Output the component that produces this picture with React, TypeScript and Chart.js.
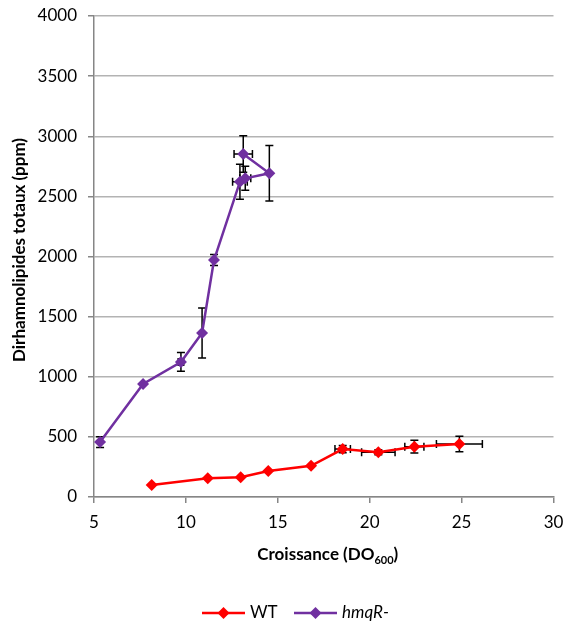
import React, { useEffect, useRef } from "react";
import { Chart, registerables } from "chart.js";

Chart.register(...registerables);

// WT series
const wtX = [8.14, 11.19, 12.98, 14.48, 16.81, 18.53, 20.47, 22.43, 24.88];
const wtY = [100, 155, 164, 216, 260, 399, 372, 418, 441];
const wtXErr = [0, 0, 0, 0, 0, 0.42, 0.91, 0.52, 1.25];
const wtYErr = [0, 0, 0, 0, 0, 30, 20, 53, 65];

// hmqR- series
const hmqX = [5.33, 7.67, 9.73, 10.88, 11.53, 12.94, 13.23, 14.54, 13.12];
const hmqY = [457, 940, 1123, 1364, 1971, 2622, 2650, 2692, 2852];
const hmqXErr = [0, 0, 0.15, 0, 0, 0.4, 0.3, 0, 0.5];
const hmqYErr = [45, 0, 78, 208, 45, 145, 100, 231, 152];

const xTicks = [5, 10, 15, 20, 25, 30];
const yTicks = [0, 500, 1000, 1500, 2000, 2500, 3000, 3500, 4000];

const seriesNames = ["WT", "hmqR-"];
const seriesColors = ["#ff0000", "#7030a0"];
const xTitleMain = "Croissance (DO";
const xTitleSub = "600";
const xTitleEnd = ")";
const yTitle = "Dirhamnolipides totaux (ppm)";

const FONT = "Lato, 'Open Sans', sans-serif";

const errorBarPlugin = {
  id: "errorBars",
  beforeDatasetsDraw(chart: any) {
    const { ctx, scales } = chart;
    const xs = scales.x;
    const ys = scales.y;
    const sets = [
      { x: wtX, y: wtY, ex: wtXErr, ey: wtYErr },
      { x: hmqX, y: hmqY, ex: hmqXErr, ey: hmqYErr },
    ];
    ctx.save();
    ctx.strokeStyle = "#000";
    ctx.lineWidth = 1.5;
    const cap = 4;
    sets.forEach((s) => {
      s.x.forEach((xv, i) => {
        const px = xs.getPixelForValue(xv);
        const py = ys.getPixelForValue(s.y[i]);
        if (s.ey[i] > 0) {
          const t = ys.getPixelForValue(s.y[i] + s.ey[i]);
          const b = ys.getPixelForValue(s.y[i] - s.ey[i]);
          ctx.beginPath();
          ctx.moveTo(px, t);
          ctx.lineTo(px, b);
          ctx.moveTo(px - cap, t);
          ctx.lineTo(px + cap, t);
          ctx.moveTo(px - cap, b);
          ctx.lineTo(px + cap, b);
          ctx.stroke();
        }
        if (s.ex[i] > 0) {
          const l = xs.getPixelForValue(xv - s.ex[i]);
          const r = xs.getPixelForValue(xv + s.ex[i]);
          ctx.beginPath();
          ctx.moveTo(l, py);
          ctx.lineTo(r, py);
          ctx.moveTo(l, py - cap);
          ctx.lineTo(l, py + cap);
          ctx.moveTo(r, py - cap);
          ctx.lineTo(r, py + cap);
          ctx.stroke();
        }
      });
    });
    ctx.restore();
  },
};

const titlesPlugin = {
  id: "customTitles",
  afterDraw(chart: any) {
    const { ctx, chartArea } = chart;
    ctx.save();
    ctx.fillStyle = "#000";
    // X title with subscript
    const mainFont = `bold 17px ${FONT}`;
    const subFont = `bold 11px ${FONT}`;
    ctx.font = mainFont;
    const w1 = ctx.measureText(xTitleMain).width;
    const w3 = ctx.measureText(xTitleEnd).width;
    ctx.font = subFont;
    const w2 = ctx.measureText(xTitleSub).width;
    const total = w1 + w2 + w3;
    const cx = (chartArea.left + chartArea.right) / 2 + 4;
    let x = cx - total / 2;
    const y = 555;
    ctx.textBaseline = "middle";
    ctx.textAlign = "left";
    ctx.font = mainFont;
    ctx.fillText(xTitleMain, x, y);
    x += w1;
    ctx.font = subFont;
    ctx.fillText(xTitleSub, x, y + 5);
    x += w2;
    ctx.font = mainFont;
    ctx.fillText(xTitleEnd, x, y);

    // Y title
    ctx.save();
    ctx.translate(20, 250);
    ctx.rotate(-Math.PI / 2);
    ctx.textAlign = "center";
    ctx.textBaseline = "middle";
    ctx.font = mainFont;
    ctx.fillText(yTitle, 0, 0);
    ctx.restore();

    // Legend
    const ly = 613;
    const items = [
      { x0: 202, x1: 245, text: seriesNames[0], italic: false },
      { x0: 294, x1: 337, text: seriesNames[1], italic: true },
    ];
    items.forEach((it, i) => {
      ctx.strokeStyle = seriesColors[i];
      ctx.lineWidth = 2.5;
      ctx.beginPath();
      ctx.moveTo(it.x0, ly);
      ctx.lineTo(it.x1, ly);
      ctx.stroke();
      const mx = (it.x0 + it.x1) / 2;
      const r = 6;
      ctx.fillStyle = seriesColors[i];
      ctx.beginPath();
      ctx.moveTo(mx, ly - r);
      ctx.lineTo(mx + r, ly);
      ctx.lineTo(mx, ly + r);
      ctx.lineTo(mx - r, ly);
      ctx.closePath();
      ctx.fill();
      ctx.fillStyle = "#000";
      ctx.font = `${it.italic ? "italic " : ""}17px ${FONT}`;
      ctx.textAlign = "left";
      ctx.textBaseline = "middle";
      ctx.fillText(it.text, it.x1 + 5, ly);
    });
    ctx.restore();
  },
};

export default function App() {
  const ref = useRef<HTMLCanvasElement>(null);
  useEffect(() => {
    if (!ref.current) return;
    const chart = new Chart(ref.current, {
      type: "scatter",
      data: {
        datasets: [
          {
            label: seriesNames[0],
            data: wtX.map((x, i) => ({ x, y: wtY[i] })),
            showLine: true,
            borderColor: seriesColors[0],
            backgroundColor: seriesColors[0],
            borderWidth: 2.5,
            pointStyle: "rectRot",
            pointRadius: 6,
            pointBorderWidth: 0,
            tension: 0,
          },
          {
            label: seriesNames[1],
            data: hmqX.map((x, i) => ({ x, y: hmqY[i] })),
            showLine: true,
            borderColor: seriesColors[1],
            backgroundColor: seriesColors[1],
            borderWidth: 2.5,
            pointStyle: "rectRot",
            pointRadius: 6,
            pointBorderWidth: 0,
            tension: 0,
          },
        ],
      },
      options: {
        responsive: false,
        animation: false,
        devicePixelRatio: 1,
        layout: { padding: { left: 0, right: 13.5, top: 16, bottom: 0 } },
        plugins: {
          legend: { display: false },
          tooltip: { enabled: false },
        },
        scales: {
          x: {
            type: "linear",
            min: 5,
            max: 30,
            afterBuildTicks: (s: any) => {
              s.ticks = xTicks.map((v) => ({ value: v }));
            },
            ticks: {
              color: "#000",
              font: { family: FONT, size: 17 },
              padding: 9,
              callback: (v: any) => String(v),
            },
            grid: {
              drawOnChartArea: false,
              drawTicks: true,
              tickLength: 6,
              color: "#868686",
              lineWidth: 1.5,
            },
            border: { color: "#868686", width: 1.5 },
            afterFit: (s: any) => {
              s.height = 126;
              s.paddingLeft = 0;
              s.paddingRight = 0;
            },
          },
          y: {
            type: "linear",
            min: 0,
            max: 4000,
            afterBuildTicks: (s: any) => {
              s.ticks = yTicks.map((v) => ({ value: v }));
            },
            ticks: {
              color: "#000",
              font: { family: FONT, size: 17 },
              padding: 11,
              callback: (v: any) => String(v),
            },
            grid: {
              color: "#b3b3b3",
              lineWidth: 1.5,
              tickLength: 6,
              tickColor: "#868686",
            },
            border: { color: "#868686", width: 1.5 },
            afterFit: (s: any) => {
              s.width = 94;
              s.paddingTop = 0;
              s.paddingBottom = 0;
            },
          },
        },
      },
      plugins: [errorBarPlugin, titlesPlugin],
    } as any);
    return () => chart.destroy();
  }, []);
  return (
    <div style={{ position: "fixed", left: 0, top: 0, width: 567, height: 623, background: "#fff" }}>
      <canvas ref={ref} width={567} height={623} />
    </div>
  );
}
